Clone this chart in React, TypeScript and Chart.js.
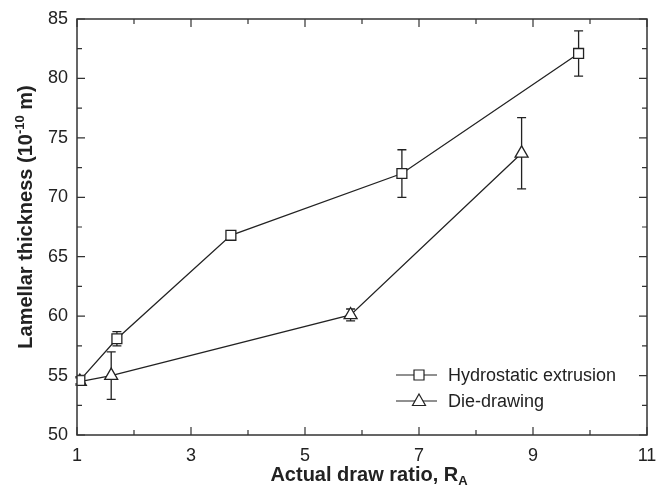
import React, { useEffect, useRef } from "react";
import { Chart, registerables } from "chart.js";

Chart.register(...registerables);

const xHydro = [1.05, 1.7, 3.7, 6.7, 9.8];
const yHydro = [54.6, 58.1, 66.8, 72.0, 82.1];
const errHydro = [0.3, 0.6, 0.2, 2.0, 1.9];

const xDie = [1.05, 1.6, 5.8, 8.8];
const yDie = [54.5, 55.0, 60.1, 73.7];
const errDie = [0.3, 2.0, 0.5, 3.0];

const seriesNames = ["Hydrostatic extrusion", "Die-drawing"];
const xMajorTicks = [1, 3, 5, 7, 9, 11];
const xMinorTicks = [2, 4, 6, 8, 10];
const yMajorTicks = [50, 55, 60, 65, 70, 75, 80, 85];
const yMinorTicks = [52.5, 57.5, 62.5, 67.5, 72.5, 77.5, 82.5];

const FONT = "'Liberation Sans', Arial, Helvetica, sans-serif";
const INK = "#222";

const errorBarPlugin = {
  id: "errorBars",
  beforeDatasetsDraw(chart: any) {
    const ctx = chart.ctx;
    const xs = chart.scales.x;
    const ys = chart.scales.y;
    const sets = [
      { x: xHydro, y: yHydro, e: errHydro },
      { x: xDie, y: yDie, e: errDie },
    ];
    ctx.save();
    ctx.strokeStyle = INK;
    ctx.lineWidth = 1.3;
    sets.forEach((s) => {
      s.x.forEach((xv, i) => {
        const px = xs.getPixelForValue(xv);
        const top = ys.getPixelForValue(s.y[i] + s.e[i]);
        const bot = ys.getPixelForValue(s.y[i] - s.e[i]);
        ctx.beginPath();
        ctx.moveTo(px, top);
        ctx.lineTo(px, bot);
        ctx.moveTo(px - 4.5, top);
        ctx.lineTo(px + 4.5, top);
        ctx.moveTo(px - 4.5, bot);
        ctx.lineTo(px + 4.5, bot);
        ctx.stroke();
      });
    });
    ctx.restore();
  },
};

const framePlugin = {
  id: "frame",
  afterDraw(chart: any) {
    const ctx = chart.ctx;
    const { left, right, top, bottom } = chart.chartArea;
    const xs = chart.scales.x;
    const ys = chart.scales.y;
    ctx.save();
    ctx.strokeStyle = "#333";
    ctx.lineWidth = 1.5;
    ctx.strokeRect(left, top, right - left, bottom - top);
    ctx.lineWidth = 1.2;
    ctx.beginPath();
    const major = 8;
    const minor = 5;
    xMajorTicks.forEach((v) => {
      const p = xs.getPixelForValue(v);
      ctx.moveTo(p, bottom); ctx.lineTo(p, bottom - major);
      ctx.moveTo(p, top); ctx.lineTo(p, top + major);
    });
    xMinorTicks.forEach((v) => {
      const p = xs.getPixelForValue(v);
      ctx.moveTo(p, bottom); ctx.lineTo(p, bottom - minor);
      ctx.moveTo(p, top); ctx.lineTo(p, top + minor);
    });
    yMajorTicks.forEach((v) => {
      const p = ys.getPixelForValue(v);
      ctx.moveTo(left, p); ctx.lineTo(left + major, p);
      ctx.moveTo(right, p); ctx.lineTo(right - major, p);
    });
    yMinorTicks.forEach((v) => {
      const p = ys.getPixelForValue(v);
      ctx.moveTo(left, p); ctx.lineTo(left + minor, p);
      ctx.moveTo(right, p); ctx.lineTo(right - minor, p);
    });
    ctx.stroke();

    // Axis titles
    ctx.fillStyle = INK;
    ctx.textBaseline = "alphabetic";
    const big = "bold 20px " + FONT;
    const small = "bold 13px " + FONT;
    const xMain = "Actual draw ratio, R";
    const xSub = "A";
    ctx.font = big;
    const w1 = ctx.measureText(xMain).width;
    ctx.font = small;
    const w2 = ctx.measureText(xSub).width;
    const cx = 369;
    const sx = cx - (w1 + w2) / 2;
    const baseY = 481;
    ctx.font = big;
    ctx.textAlign = "left";
    ctx.fillText(xMain, sx, baseY);
    ctx.font = small;
    ctx.fillText(xSub, sx + w1, baseY + 4);

    // Y title
    const p1 = "Lamellar thickness (10";
    const p2 = "-10";
    const p3 = " m)";
    ctx.save();
    ctx.translate(32, 217);
    ctx.rotate(-Math.PI / 2);
    ctx.font = big;
    const a = ctx.measureText(p1).width;
    const c = ctx.measureText(p3).width;
    ctx.font = small;
    const b = ctx.measureText(p2).width;
    const tx = -(a + b + c) / 2;
    ctx.font = big;
    ctx.fillText(p1, tx, 0);
    ctx.font = small;
    ctx.fillText(p2, tx + a, -8);
    ctx.font = big;
    ctx.fillText(p3, tx + a + b, 0);
    ctx.restore();

    // Legend
    const rows = [
      { name: seriesNames[0], style: "rect", y: 375 },
      { name: seriesNames[1], style: "triangle", y: 401 },
    ];
    ctx.font = "18px " + FONT;
    ctx.textBaseline = "middle";
    rows.forEach((r) => {
      ctx.strokeStyle = INK;
      ctx.lineWidth = 1.2;
      ctx.beginPath();
      ctx.moveTo(396, r.y);
      ctx.lineTo(437, r.y);
      ctx.stroke();
      ctx.fillStyle = "#fff";
      ctx.beginPath();
      if (r.style === "rect") {
        ctx.rect(414, r.y - 5, 10, 10);
      } else {
        ctx.moveTo(419, r.y - 7);
        ctx.lineTo(425.5, r.y + 4.5);
        ctx.lineTo(412.5, r.y + 4.5);
        ctx.closePath();
      }
      ctx.fill();
      ctx.stroke();
      ctx.fillStyle = INK;
      ctx.fillText(r.name, 448, r.y + 1);
    });
    ctx.restore();
  },
};

export default function App() {
  const ref = useRef<HTMLCanvasElement | null>(null);
  useEffect(() => {
    document.body.style.margin = "0";
    if (!ref.current) return;
    const chart = new Chart(ref.current, {
      type: "scatter",
      data: {
        datasets: [
          {
            label: seriesNames[0],
            data: xHydro.map((x, i) => ({ x, y: yHydro[i] })),
            showLine: true,
            borderColor: INK,
            borderWidth: 1.3,
            pointStyle: "rect",
            pointRadius: 7,
            pointBorderWidth: 1.3,
            pointBackgroundColor: "#fff",
            pointBorderColor: INK,
          },
          {
            label: seriesNames[1],
            data: xDie.map((x, i) => ({ x, y: yDie[i] })),
            showLine: true,
            borderColor: INK,
            borderWidth: 1.3,
            pointStyle: "triangle",
            pointRadius: 7.5,
            pointBorderWidth: 1.3,
            pointBackgroundColor: "#fff",
            pointBorderColor: INK,
          },
        ],
      },
      options: {
        responsive: false,
        animation: false,
        layout: { padding: { top: 19, right: 9, left: 0, bottom: 0 } },
        plugins: { legend: { display: false }, tooltip: { enabled: false } },
        scales: {
          x: {
            type: "linear",
            min: 1,
            max: 11,
            afterFit: (s: any) => { s.height = 55; s.paddingLeft = 0; s.paddingRight = 0; },
            afterBuildTicks: (s: any) => { s.ticks = xMajorTicks.map((v) => ({ value: v })); },
            grid: { display: false, drawTicks: false },
            border: { display: false },
            ticks: { padding: 10, color: INK, font: { family: FONT, size: 18 } },
          },
          y: {
            type: "linear",
            min: 50,
            max: 85,
            afterFit: (s: any) => { s.width = 77; s.paddingTop = 0; s.paddingBottom = 0; },
            afterBuildTicks: (s: any) => { s.ticks = yMajorTicks.map((v) => ({ value: v })); },
            grid: { display: false, drawTicks: false },
            border: { display: false },
            ticks: { padding: 9, color: INK, font: { family: FONT, size: 18 } },
          },
        },
      },
      plugins: [errorBarPlugin, framePlugin],
    });
    return () => chart.destroy();
  }, []);
  return <canvas ref={ref} width={656} height={490} style={{ display: "block" }} />;
}
